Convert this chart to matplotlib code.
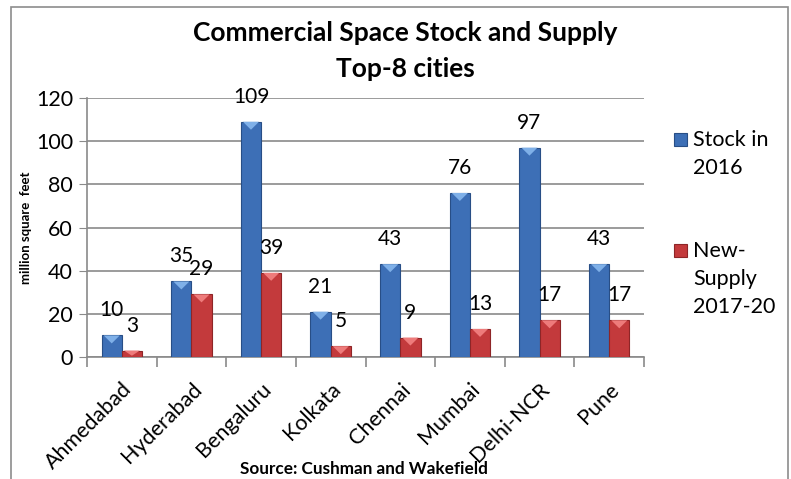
import numpy as np
import matplotlib
matplotlib.use("Agg")
import matplotlib.pyplot as plt
from matplotlib.patches import Rectangle, Polygon

plt.rcParams["font.family"] = ["Lato", "DejaVu Sans"]

cities = ["Ahmedabad", "Hyderabad", "Bengaluru", "Kolkata", "Chennai",
          "Mumbai", "Delhi-NCR", "Pune"]
stock_2016 = [10, 35, 109, 21, 43, 76, 97, 43]
new_supply = [3, 29, 39, 5, 9, 13, 17, 17]
series_names = ["Stock in\n2016", "New-\nSupply\n2017-20"]
yticks = [0, 20, 40, 60, 80, 100, 120]

BLUE = "#3D6FB6"
BLUE_EDGE = "#284E86"
BLUE_TOP = "#7FB0E8"
RED = "#C33A3C"
RED_EDGE = "#8E2527"
RED_TOP = "#EE7B7B"
GRID = "#8A8A8A"

W, H = 791, 479
fig = plt.figure(figsize=(W / 100, H / 100), dpi=100)
ax = fig.add_axes([87 / W, 1 - 357 / H, (644 - 87) / W, (357 - 98) / H])

x = np.arange(len(cities))
bw = 0.29
b1 = ax.bar(x - bw / 2, stock_2016, bw, color=BLUE, edgecolor=BLUE_EDGE,
            linewidth=0.8, label=series_names[0], zorder=3)
b2 = ax.bar(x + bw / 2, new_supply, bw, color=RED, edgecolor=RED_EDGE,
            linewidth=0.8, label=series_names[1], zorder=3)

ax.set_ylim(0, 120)
ax.set_xlim(-0.5, len(cities) - 0.5)

# bevelled top of each bar: light triangle pointing down
ax_h_px = (357 - 98)
dy = 8 * 120 / ax_h_px
for bars, col in ((b1, BLUE_TOP), (b2, RED_TOP)):
    for p in bars:
        x0, w, h = p.get_x(), p.get_width(), p.get_height()
        d = min(dy, h * 0.8)
        tri = Polygon([(x0 + 0.1 * w, h), (x0 + 0.9 * w, h), (x0 + w / 2, h - d)],
                      closed=True, color=col, zorder=4, lw=0)
        ax.add_patch(tri)

# value labels
for bars in (b1, b2):
    for p in bars:
        ax.annotate(f"{p.get_height():.0f}", (p.get_x() + p.get_width() / 2, p.get_height()),
                    xytext=(0, 18), textcoords="offset points", ha="center", va="center",
                    fontsize=15, zorder=5)

# axes styling
ax.set_yticks(yticks)
ax.yaxis.grid(True, color=GRID, linewidth=1.2, zorder=0)
ax.tick_params(axis="y", length=6, color=GRID, labelsize=15.5, pad=4)
ax.set_xticks(np.arange(len(cities) + 1) - 0.5)
ax.set_xticklabels([])
ax.tick_params(axis="x", which="major", length=7, color=GRID, width=1.2)
ax.set_xticks(x, minor=True)
ax.set_xticklabels(cities, minor=True, rotation=45, ha="right",
                   rotation_mode="anchor", fontsize=15.5)
ax.tick_params(axis="x", which="minor", length=0, pad=16)
for s in ("top", "right"):
    ax.spines[s].set_visible(False)
for s in ("left", "bottom"):
    ax.spines[s].set_color(GRID)
    ax.spines[s].set_linewidth(1.2)

ax.set_ylabel("million square  feet", fontsize=9.5, fontweight="bold")
ax.yaxis.set_label_coords(-0.098, 0.5)

fig.text(405 / W, 1 - 33 / H, "Commercial Space Stock and Supply", ha="center",
         va="center", fontsize=19, fontweight="bold")
fig.text(405 / W, 1 - 69 / H, "Top-8 cities", ha="center", va="center",
         fontsize=19, fontweight="bold")
fig.text(364 / W, 1 - 469 / H, "Source: Cushman and Wakefield", ha="center",
         va="center", fontsize=12.3, fontweight="bold")

# legend, laid out like the original: swatch beside the first line of each entry
legend_rows = [(139, 154, BLUE, BLUE_EDGE), (250, 279, RED, RED_EDGE)]
for name, (first_y, mid_y, col, edge) in zip(series_names, legend_rows):
    fig.patches.append(Rectangle((674 / W, 1 - (first_y + 7) / H), 13 / W, 13 / H,
                                 transform=fig.transFigure, facecolor=col,
                                 edgecolor=edge, linewidth=0.8))
    fig.text(693 / W, 1 - mid_y / H, name, ha="left", va="center",
             fontsize=15.5, linespacing=1.5)

# outer chart frame
fig.patches.append(Rectangle((11 / W, -0.05), (788 - 11) / W, 1 - 7 / H + 0.05,
                             transform=fig.transFigure, fill=False,
                             edgecolor="#8C8C8C", linewidth=1.2))

fig.savefig("out.png", dpi=100)
